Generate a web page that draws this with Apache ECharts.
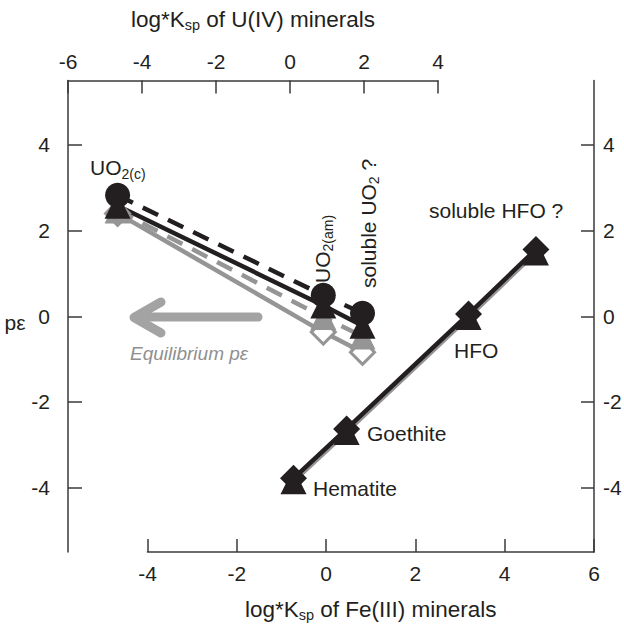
<!DOCTYPE html>
<html>
<head>
<meta charset="utf-8">
<script src="https://cdn.jsdelivr.net/npm/echarts@6/dist/echarts.min.js"></script>
<style>
  html, body { margin: 0; padding: 0; background: #fff; }
  #chart { width: 624px; height: 630px; }
</style>
</head>
<body>
<div id="chart"></div>
<script>
// U(IV) minerals -> top axis
var uMinerals = ['UO2(c)', 'UO2(am)', 'soluble UO2'];
var uLogKsp = [-4.66, 0.9, 1.96];
var uPeCircle = [2.82, 0.49, 0.07];
var uPeTriangle = [2.58, 0.25, -0.22];
var uPeGrayTriangle = [2.47, -0.02, -0.47];
var uPeDiamond = [2.4, -0.37, -0.84];

// Fe(III) minerals -> bottom axis
var feMinerals = ['Hematite', 'Goethite', 'HFO', 'soluble HFO'];
var feLogKsp = [-0.73, 0.46, 3.19, 4.7];
var fePeDiamond = [-3.78, -2.63, 0.05, 1.56];
var fePeTriangle = [-3.85, -2.7, -0.02, 1.49];

var peTicks = [-4, -2, 0, 2, 4];

var ink = '#231f20';
var gray = '#959595';
var axisColor = '#3a3a3a';
var font = "'Liberation Sans', Arial, sans-serif";

function pairs(xs, ys) {
    return xs.map(function (x, i) { return [x, ys[i]]; });
}

var nameRich = {
    m: { fontSize: 22.5, lineHeight: 26, fontFamily: font, color: ink },
    s: { fontSize: 14.5, lineHeight: 14, verticalAlign: 'bottom', fontFamily: font, color: ink }
};
var textRich = {
    m: { fontSize: 21, lineHeight: 26, fontFamily: font, fill: ink },
    s: { fontSize: 14, lineHeight: 14, verticalAlign: 'bottom', fontFamily: font, fill: ink }
};

function axisBase(extra) {
    var a = {
        type: 'value',
        axisLine: { show: true, onZero: false, lineStyle: { color: axisColor, width: 1.5 } },
        axisTick: { show: true, inside: true, length: 13, lineStyle: { color: axisColor, width: 1.5 } },
        axisLabel: { color: ink, fontSize: 21, fontFamily: font, showMinLabel: true, showMaxLabel: true },
        splitLine: { show: false }
    };
    for (var k in extra) {
        if (typeof extra[k] === 'object' && a[k] && !Array.isArray(extra[k])) {
            a[k] = Object.assign({}, a[k], extra[k]);
        } else {
            a[k] = extra[k];
        }
    }
    return a;
}

function line(xi, data, symbol, size, color, lineType, lineColor, extra) {
    return Object.assign({
        type: 'line',
        xAxisIndex: xi,
        yAxisIndex: xi,
        data: data,
        symbol: symbol,
        symbolSize: size,
        showAllSymbol: true,
        itemStyle: { color: color },
        lineStyle: { color: lineColor, width: 4.5, type: lineType },
        emphasis: { disabled: true },
        silent: true
    }, extra || {});
}

function txt(x, y, text, opts) {
    return Object.assign({
        type: 'text',
        x: x,
        y: y,
        style: {
            text: text,
            rich: textRich,
            fill: ink,
            fontSize: 21,
            fontFamily: font,
            align: 'left',
            verticalAlign: 'middle'
        }
    }, opts || {});
}

function plain(x, y, text, extraStyle) {
    return {
        type: 'text',
        x: x,
        y: y,
        style: Object.assign({
            text: text, fill: ink, fontSize: 21, fontFamily: font,
            align: 'left', verticalAlign: 'middle'
        }, extraStyle || {})
    };
}

var chart = echarts.init(document.getElementById('chart'), null, { renderer: 'svg' });
chart.setOption({
    animation: false,
    backgroundColor: '#fff',
    grid: [
        { left: 68, top: 80.5, width: 370, height: 471.5, outerBoundsMode: 'none' },
        { left: 147.5, top: 80.5, width: 446.5, height: 471.5, outerBoundsMode: 'none' }
    ],
    xAxis: [
        axisBase({
            gridIndex: 0, position: 'top', min: -6, max: 4, interval: 2,
            name: '{m|log*K}{s|sp}{m| of U(IV) minerals}',
            nameLocation: 'middle', nameGap: 48,
            nameTextStyle: { fontSize: 22.5, fontFamily: font, color: ink, rich: nameRich },
            axisLabel: { margin: 9 }
        }),
        axisBase({
            gridIndex: 1, position: 'bottom', min: -4, max: 6, interval: 2,
            name: '{m|log*K}{s|sp}{m| of Fe(III) minerals}',
            nameLocation: 'middle', nameGap: 44,
            nameTextStyle: { fontSize: 22.5, fontFamily: font, color: ink, rich: nameRich },
            axisLabel: { margin: 11 }
        })
    ],
    yAxis: [
        axisBase({
            gridIndex: 0, position: 'left', min: -5.5, max: 5.5,
            axisTick: { customValues: peTicks, length: 14 },
            axisLabel: { customValues: peTicks, margin: 18 }
        }),
        axisBase({
            gridIndex: 1, position: 'right', min: -5.5, max: 5.5,
            axisTick: { customValues: peTicks },
            axisLabel: { customValues: peTicks, margin: 9 }
        })
    ],
    series: [
        // U(IV): gray = equilibrium, black = observed
        line(0, pairs(uLogKsp, uPeDiamond), 'diamond', 24, '#fff', 'solid', gray,
            { itemStyle: { color: '#fff', borderColor: gray, borderWidth: 3 } }),
        line(0, pairs(uLogKsp, uPeGrayTriangle), 'triangle', 26, gray, [17, 11], gray),
        line(0, pairs(uLogKsp, uPeTriangle), 'triangle', 26, ink, 'solid', ink),
        line(0, pairs(uLogKsp, uPeCircle), 'circle', 25, ink, [17, 11], ink),
        // Fe(III)
        line(1, pairs(feLogKsp, fePeTriangle), 'triangle', 26, ink, 'solid', gray),
        line(1, pairs(feLogKsp, fePeDiamond), 'diamond', 27, ink, 'solid', ink)
    ],
    graphic: [
        plain(15, 322, 'pε', { align: 'center' }),
        txt(90, 167.5, '{m|UO}{s|2(c)}'),
        txt(322, 283, '{m|UO}{s|2(am)}', { rotation: Math.PI / 2 }),
        txt(368, 288, '{m|soluble UO}{s|2}{m| ?}', { rotation: Math.PI / 2 }),
        plain(429, 210, 'soluble HFO ?'),
        plain(454, 350, 'HFO'),
        plain(367, 433, 'Goethite'),
        plain(313, 488, 'Hematite'),
        plain(130, 353, 'Equilibrium pε', { fill: '#8f8f8f', fontSize: 19, fontStyle: 'italic' }),
        // gray arrow
        { type: 'polyline', shape: { points: [[258, 317], [138, 317]] },
          style: { stroke: '#a3a3a3', lineWidth: 9, lineCap: 'round', fill: null } },
        { type: 'polyline', shape: { points: [[161, 302], [134, 317.5], [161, 333]] },
          style: { stroke: '#a3a3a3', lineWidth: 9, lineCap: 'round', lineJoin: 'round', fill: null } }
    ]
});
</script>
</body>
</html>
